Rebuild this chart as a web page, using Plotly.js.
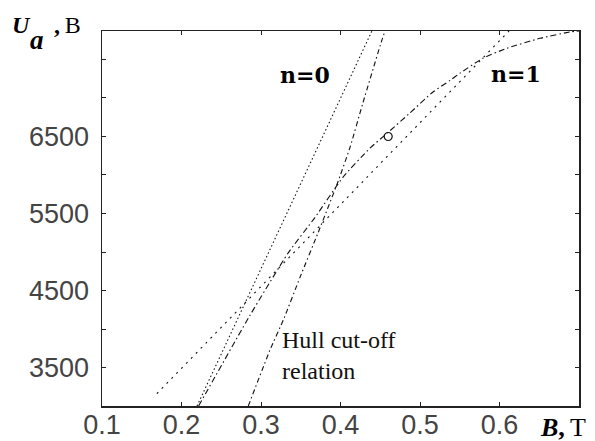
<!DOCTYPE html>
<html>
<head>
<meta charset="utf-8">
<script src="https://cdn.plot.ly/plotly-3.0.1.min.js"></script>
<style>html,body{margin:0;padding:0;background:#fff;}#chart{width:595px;height:441px;}</style>
</head>
<body>
<div id="chart"></div>
<script>
// Hartree threshold line, n = 0 (dotted)
const bHartree0 = [0.2195, 0.4395];
const uHartree0 = [3000, 7870];
// Hull cut-off relation (dashed)
const bHull = [0.284, 0.311, 0.329, 0.349, 0.372, 0.396, 0.412, 0.428, 0.452, 0.456];
const uHull = [3000, 3720, 4140, 4670, 5255, 5890, 6360, 6930, 7750, 7870];
// n = 1 curve (dash-dot)
const bCurve1 = [0.2215, 0.286, 0.334, 0.368, 0.403, 0.437, 0.460, 0.487, 0.516, 0.538, 0.550, 0.579, 0.609, 0.651, 0.690, 0.700];
const uCurve1 = [3000, 4175, 4985, 5450, 5970, 6348, 6555, 6802, 7075, 7230, 7320, 7515, 7645, 7775, 7860, 7870];
// Hartree threshold line, n = 1 (sparse dots)
const bHartree1 = [0.169, 0.612];
const uHartree1 = [3160, 7870];
// operating point
const bPoint = [0.46];
const uPoint = [6500];
// ticks
const xTickVals = [0.1, 0.2, 0.3, 0.4, 0.5, 0.6];
const xTickText = ['0.1', '0.2', '0.3', '0.4', '0.5', '0.6'];
const yTickVals = [3500, 4000, 4500, 5000, 5500, 6000, 6500, 7000, 7500];
const yTickText = ['3500', '', '4500', '', '5500', '', '6500', '', ''];

const L = 102, T = 31, W = 477, H = 375;
const px = x => (x - L) / W;
const py = y => (T + H - y) / H;

const lineBase = {type: 'scatter', mode: 'lines', hoverinfo: 'skip', showlegend: false};
const traces = [
  Object.assign({}, lineBase, {x: bHartree0, y: uHartree0, line: {color: '#111', width: 1.1, dash: '1.5px,2.5px'}}),
  Object.assign({}, lineBase, {x: bHull, y: uHull, line: {color: '#111', width: 1.1, dash: '5px,3px,1.5px,3px', shape: 'spline', smoothing: 0.5}}),
  Object.assign({}, lineBase, {x: bCurve1, y: uCurve1, line: {color: '#111', width: 1.1, dash: '6px,3px,1.5px,3px', shape: 'spline', smoothing: 0.5}}),
  Object.assign({}, lineBase, {x: bHartree1, y: uHartree1, line: {color: '#111', width: 1.1, dash: '2px,5px'}}),
  {type: 'scatter', mode: 'markers', x: bPoint, y: uPoint, showlegend: false, hoverinfo: 'skip',
   marker: {symbol: 'circle-open', size: 8, color: '#111', line: {width: 1.2, color: '#111'}}}
];

const serif = 'Liberation Serif, Times New Roman, serif';
const layout = {
  width: 595, height: 441,
  margin: {l: L, r: 595 - L - W, t: T, b: 441 - T - H, pad: 0},
  paper_bgcolor: '#fff', plot_bgcolor: '#fff',
  font: {family: 'Liberation Sans, Arial, sans-serif', color: '#444', size: 28},
  xaxis: {
    range: [0.1, 0.7], tickvals: xTickVals, ticktext: xTickText,
    ticks: 'inside', ticklen: 4, tickwidth: 1, tickcolor: '#222',
    showline: true, linecolor: '#222', linewidth: 1.5, mirror: 'ticks',
    showgrid: false, zeroline: false, ticklabelstandoff: -6,
    tickfont: {family: 'Liberation Sans, Arial, sans-serif', size: 27, color: '#444'}
  },
  yaxis: {
    range: [3000, 7870], tickvals: yTickVals, ticktext: yTickText,
    ticks: 'inside', ticklen: 4, tickwidth: 1, tickcolor: '#222',
    showline: true, linecolor: '#222', linewidth: 1.5, mirror: 'ticks',
    showgrid: false, zeroline: false, ticklabelstandoff: 6,
    tickfont: {family: 'Liberation Sans, Arial, sans-serif', size: 27, color: '#444'}
  },
  annotations: [
    {text: '<b><i>U</i></b>', xref: 'paper', yref: 'paper', x: px(10), y: py(25), xanchor: 'left', yanchor: 'middle', showarrow: false,
     font: {family: serif, size: 24, color: '#000'}},
    {text: '<b><i>a</i></b>', xref: 'paper', yref: 'paper', x: px(28), y: py(40), xanchor: 'left', yanchor: 'middle', showarrow: false,
     font: {family: serif, size: 27, color: '#000'}},
    {text: '<b>,</b>\u2009В', xref: 'paper', yref: 'paper', x: px(52), y: py(25), xanchor: 'left', yanchor: 'middle', showarrow: false,
     font: {family: serif, size: 24, color: '#000'}},
    {text: '<b><i>B</i>,</b>\u2009Т', xref: 'paper', yref: 'paper', x: px(538), y: py(427), xanchor: 'left', yanchor: 'middle', showarrow: false,
     font: {family: serif, size: 26, color: '#000'}},
    {text: '<b>n=0</b>', xref: 'paper', yref: 'paper', x: px(305), y: py(75), xanchor: 'center', yanchor: 'middle', showarrow: false,
     font: {family: 'DejaVu Serif, serif', size: 22, color: '#000'}},
    {text: '<b>n=1</b>', xref: 'paper', yref: 'paper', x: px(516), y: py(74), xanchor: 'center', yanchor: 'middle', showarrow: false,
     font: {family: 'DejaVu Serif, serif', size: 22, color: '#000'}},
    {text: 'Hull cut-off<br>relation', xref: 'paper', yref: 'paper', x: px(280), y: py(355), xanchor: 'left', yanchor: 'middle', align: 'left', showarrow: false,
     font: {family: serif, size: 24, color: '#111'}}
  ]
};

Plotly.newPlot('chart', traces, layout, {staticPlot: true, displayModeBar: false});
</script>
</body>
</html>
